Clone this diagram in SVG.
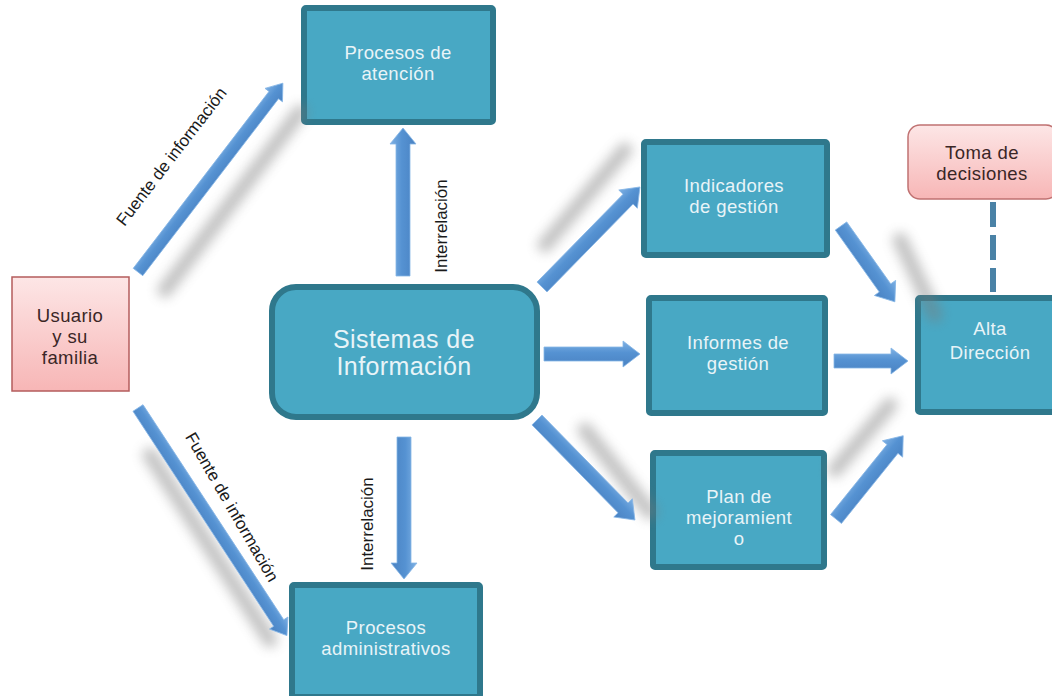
<svg xmlns="http://www.w3.org/2000/svg" width="1052" height="696" viewBox="0 0 1052 696">
<style>
.box{fill:#48a8c4;stroke:#2f788c;stroke-width:6}
.pink{fill:url(#pinkG);stroke:#b45c5c;stroke-width:1.5}
.tl{font-family:"Liberation Sans",Arial,sans-serif;font-size:18.5px;letter-spacing:0.4px;fill:#e8f4f8;text-anchor:middle}
.tb{font-family:"Liberation Sans",Arial,sans-serif;font-size:18.5px;letter-spacing:0.4px;fill:#3a2626;text-anchor:middle}
.lab{font-family:"Liberation Sans",Arial,sans-serif;font-size:17px;fill:#1a1a1a;text-anchor:middle}
.arr{fill:url(#arrG);stroke:#86b6e6;stroke-width:0.8}
.sh{fill:none;stroke:#7a7a7a;stroke-width:15;stroke-linecap:round;opacity:0.45;filter:url(#blur)}
</style>
<defs>
<linearGradient id="pinkG" x1="0" y1="0" x2="0" y2="1">
<stop offset="0" stop-color="#fde6e6"/>
<stop offset="1" stop-color="#f7b6b6"/>
</linearGradient>
<linearGradient id="arrG" x1="0" y1="0" x2="0" y2="1">
<stop offset="0" stop-color="#7fb1e4"/>
<stop offset="0.45" stop-color="#5592d2"/>
<stop offset="1" stop-color="#4a82c2"/>
</linearGradient>
<filter id="blur" x="-50%" y="-50%" width="200%" height="200%">
<feGaussianBlur stdDeviation="6"/>
</filter>
</defs>
<rect width="1052" height="696" fill="#ffffff"/>

<g id="usuario">
<rect class="pink" x="12" y="277" width="117" height="114"/>
<text class="tb"><tspan x="70" y="322">Usuario</tspan><tspan x="70" y="343">y su</tspan><tspan x="70" y="364">familia</tspan></text>
</g>

<g id="procesos-atencion">
<rect class="box" x="304" y="8" width="189" height="114" rx="2"/>
<text class="tl"><tspan x="398" y="59">Procesos de</tspan><tspan x="398" y="80">atención</tspan></text>
</g>

<g id="sistemas">
<rect class="box" x="272" y="287" width="265" height="130" rx="24"/>
<text class="tl" style="font-size:25px"><tspan x="404" y="348">Sistemas de</tspan><tspan x="404" y="375">Información</tspan></text>
</g>

<g id="procesos-admin">
<rect class="box" x="292" y="585" width="188" height="112" rx="2"/>
<text class="tl"><tspan x="386" y="634">Procesos</tspan><tspan x="386" y="655">administrativos</tspan></text>
</g>

<g id="indicadores">
<rect class="box" x="644" y="142" width="183" height="113" rx="2"/>
<text class="tl"><tspan x="734" y="192">Indicadores</tspan><tspan x="734" y="213">de gestión</tspan></text>
</g>

<g id="informes">
<rect class="box" x="649" y="298" width="176" height="115" rx="2"/>
<text class="tl"><tspan x="738" y="349">Informes de</tspan><tspan x="738" y="370">gestión</tspan></text>
</g>

<g id="plan">
<rect class="box" x="653" y="453" width="171" height="114" rx="2"/>
<text class="tl"><tspan x="739" y="503">Plan de</tspan><tspan x="739" y="524">mejoramient</tspan><tspan x="739" y="545">o</tspan></text>
</g>

<g id="toma">
<rect class="pink" x="908" y="125" width="150" height="74" rx="12" style="stroke:#c07272"/>
<text class="tb"><tspan x="982" y="159">Toma de</tspan><tspan x="982" y="180">decisiones</tspan></text>
</g>

<g id="alta">
<rect class="box" x="918" y="298" width="144" height="114" rx="2"/>
<text class="tl"><tspan x="990" y="335">Alta</tspan><tspan x="990" y="359">Dirección</tspan></text>
</g>

<g id="connectors">
<g id="shadows">
<line class="sh" x1="165" y1="290" x2="300" y2="112"/>
<line class="sh" x1="150" y1="455" x2="270" y2="640"/>
<line class="sh" x1="375" y1="105" x2="375" y2="245"/>
<line class="sh" x1="438" y1="470" x2="438" y2="620"/>
<line class="sh" x1="545" y1="245" x2="625" y2="150"/>
<line class="sh" x1="580" y1="320" x2="665" y2="320"/>
<line class="sh" x1="585" y1="430" x2="650" y2="512"/>
<line class="sh" x1="900" y1="240" x2="935" y2="315"/>
<line class="sh" x1="870" y1="334" x2="935" y2="334"/>
<line class="sh" x1="835" y1="470" x2="890" y2="405"/>
</g>
<path class="arr" d="M0,-6 L223,-6 L223,-11 L238,0 L223,11 L223,6 L0,6Z" transform="translate(138,272) rotate(-52.5)"/>
<path class="arr" d="M0,-6 L257,-6 L257,-11 L272,0 L257,11 L257,6 L0,6Z" transform="translate(138,408) rotate(56.8)"/>
<path class="arr" d="M0,-7 L132,-7 L132,-13 L148,0 L132,13 L132,7 L0,7Z" transform="translate(403,276) rotate(-90)"/>
<path class="arr" d="M0,-7 L126,-7 L126,-13 L142,0 L126,13 L126,7 L0,7Z" transform="translate(404,437) rotate(90)"/>
<path class="arr" d="M0,-7 L123,-7 L123,-13 L140,0 L123,13 L123,7 L0,7Z" transform="translate(542,287) rotate(-45.6)"/>
<path class="arr" d="M0,-7 L79,-7 L79,-13 L96,0 L79,13 L79,7 L0,7Z" transform="translate(544,354)"/>
<path class="arr" d="M0,-7 L123,-7 L123,-13 L140,0 L123,13 L123,7 L0,7Z" transform="translate(537,420) rotate(45.6)"/>
<path class="arr" d="M0,-7 L76,-7 L76,-13 L93,0 L76,13 L76,7 L0,7Z" transform="translate(841,226) rotate(54.6)"/>
<path class="arr" d="M0,-7 L57,-7 L57,-13 L74,0 L57,13 L57,7 L0,7Z" transform="translate(834,361)"/>
<path class="arr" d="M0,-7 L90,-7 L90,-13 L107,0 L90,13 L90,7 L0,7Z" transform="translate(836,519) rotate(-51.1)"/>
<line x1="993" y1="202" x2="993" y2="292" stroke="#4a82a6" stroke-width="6" stroke-dasharray="25 8"/>
<text class="lab" transform="translate(176,160) rotate(-52.5)">Fuente de información</text>
<text class="lab" transform="translate(227,510) rotate(60)">Fuente de información</text>
<text class="lab" transform="translate(447,226) rotate(-90)">Interrelación</text>
<text class="lab" transform="translate(373,524) rotate(-90)">Interrelación</text>
</g>
</svg>
